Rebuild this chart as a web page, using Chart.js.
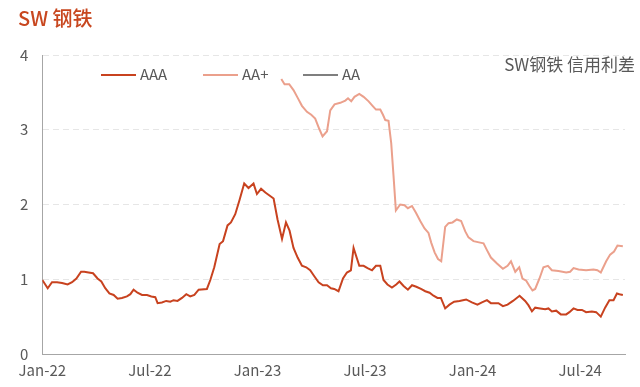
<!DOCTYPE html>
<html lang="zh">
<head>
<meta charset="UTF-8">
<title>SW 钢铁 信用利差</title>
<script src="https://cdn.jsdelivr.net/npm/chart.js"></script>
<style>
    body { margin: 0; background: #fff; font-family: "Noto Sans CJK SC", "Noto Sans", sans-serif; }
    #wrap { position: relative; width: 640px; height: 387px; }
    #spreadChart { position: absolute; left: 0; top: 0; }
    #title { position: absolute; left: 18px; top: 3px; font-size: 20px; color: #C8471F; font-weight: 500; }
    #note { position: absolute; right: 5px; top: 51px; font-size: 17px; color: #595959; }
    #legend { position: absolute; top: 63px; left: 0; font-size: 15px; color: #595959; }
    .item { position: absolute; white-space: nowrap; }
    .swatch { display: inline-block; width: 35px; height: 2px; vertical-align: middle; margin-right: 4px; position: relative; top: -1px; }
</style>
</head>
<body>
<div id="wrap">
    <canvas id="spreadChart" width="640" height="387"></canvas>
    <div id="title">SW 钢铁</div>
    <div id="note">SW钢铁 信用利差</div>
    <div id="legend"></div>
</div>
<script>
    // x values are months since Jan-22
    const xTickLabels = ['Jan-22', 'Jul-22', 'Jan-23', 'Jul-23', 'Jan-24', 'Jul-24'];
    const seriesNames = ['AAA', 'AA+', 'AA'];

    const aaaMonths = [0, 0.30, 0.54, 0.82, 1.10, 1.41, 1.66, 1.90, 2.16, 2.34, 2.58, 2.83, 3.08, 3.29, 3.51, 3.74,
        3.98, 4.20, 4.44, 4.72, 4.91, 5.09, 5.31, 5.56, 5.84, 6.08, 6.30, 6.43, 6.67, 6.91, 7.14, 7.32, 7.54, 7.79,
        8.03, 8.25, 8.48, 8.72, 9.18, 9.37, 9.59, 9.89, 10.08, 10.33, 10.52, 10.76, 11.00, 11.26, 11.50, 11.78,
        11.97, 12.20, 12.44, 12.67, 12.90, 13.12, 13.37, 13.59, 13.79, 14.01, 14.24, 14.48, 14.72, 14.94, 15.17,
        15.41, 15.65, 15.88, 16.10, 16.28, 16.52, 16.77, 16.99, 17.21, 17.36, 17.68, 17.92, 18.14, 18.39, 18.61,
        18.85, 19.03, 19.25, 19.50, 19.74, 19.92, 20.15, 20.39, 20.62, 20.86, 21.12, 21.36, 21.60, 21.82, 22.04,
        22.23, 22.47, 22.71, 22.97, 23.27, 23.64, 23.96, 24.27, 24.52, 24.80, 25.02, 25.44, 25.69, 25.95, 26.25,
        26.62, 26.93, 27.12, 27.31, 27.49, 27.77, 28.05, 28.23, 28.42, 28.66, 28.92, 29.22, 29.40, 29.63, 29.85,
        30.10, 30.33, 30.65, 30.89, 31.15, 31.39, 31.63, 31.86, 32.05, 32.19, 32.38];
    const aaaValues = [0.99, 0.88, 0.96, 0.96, 0.95, 0.93, 0.96, 1.01, 1.10, 1.10, 1.09, 1.08, 1.01, 0.97, 0.88, 0.81,
        0.79, 0.74, 0.75, 0.77, 0.80, 0.86, 0.82, 0.79, 0.79, 0.77, 0.76, 0.68, 0.69, 0.71, 0.70, 0.72, 0.71, 0.75,
        0.80, 0.77, 0.79, 0.86, 0.87, 0.99, 1.16, 1.47, 1.51, 1.72, 1.76, 1.87, 2.06, 2.28, 2.22, 2.28,
        2.14, 2.21, 2.16, 2.12, 2.08, 1.80, 1.54, 1.76, 1.65, 1.42, 1.29, 1.18, 1.16, 1.12, 1.04,
        0.96, 0.92, 0.92, 0.88, 0.87, 0.84, 1.01, 1.09, 1.12, 1.42, 1.18, 1.18, 1.15, 1.12, 1.18,
        1.18, 0.99, 0.93, 0.89, 0.93, 0.97, 0.91, 0.86, 0.92, 0.90, 0.87, 0.84, 0.82, 0.78, 0.75,
        0.75, 0.61, 0.66, 0.70, 0.71, 0.73, 0.69, 0.66, 0.69, 0.72, 0.68, 0.68, 0.64, 0.66, 0.71,
        0.78, 0.71, 0.65, 0.57, 0.62, 0.61, 0.60, 0.61, 0.57, 0.58, 0.53, 0.53, 0.56, 0.61, 0.59,
        0.59, 0.56, 0.57, 0.56, 0.50, 0.62, 0.72, 0.72, 0.81, 0.80, 0.79];

    const aaPlusMonths = [13.33, 13.51, 13.77, 14.01, 14.26, 14.48, 14.76, 15.00, 15.22, 15.45, 15.63, 15.88, 16.06,
        16.30, 16.62, 16.90, 17.05, 17.23, 17.41, 17.68, 17.92, 18.20, 18.42, 18.61, 18.85, 19.00, 19.13, 19.31,
        19.46, 19.59, 19.72, 19.96, 20.20, 20.39, 20.62, 20.84, 21.08, 21.32, 21.54, 21.69, 21.88, 22.07, 22.25,
        22.47, 22.66, 22.88, 23.12, 23.36, 23.59, 23.77, 24.05, 24.42, 24.61, 24.80, 25.02, 25.36, 25.69, 25.95,
        26.14, 26.38, 26.60, 26.78, 26.99, 27.17, 27.34, 27.49, 27.73, 27.95, 28.20, 28.42, 28.79, 29.22, 29.44,
        29.63, 29.91, 30.33, 30.74, 30.96, 31.15, 31.45, 31.67, 31.89, 32.08, 32.38];
    const aaPlusValues = [3.68, 3.61, 3.61, 3.53, 3.42, 3.32, 3.24, 3.20, 3.15, 3.01, 2.91, 2.98, 3.26,
        3.34, 3.36, 3.39, 3.42, 3.38, 3.44, 3.48, 3.44, 3.38, 3.32, 3.27, 3.27, 3.20, 3.13, 3.12,
        2.82, 2.38, 1.92, 2.00, 1.99, 1.95, 1.98, 1.89, 1.78, 1.68, 1.62, 1.49, 1.36, 1.27, 1.24,
        1.70, 1.75, 1.76, 1.80, 1.78, 1.64, 1.56, 1.51, 1.49, 1.48, 1.39, 1.29, 1.21, 1.14, 1.18,
        1.24, 1.10, 1.16, 1.01, 0.98, 0.91, 0.85, 0.87, 1.01, 1.16, 1.18, 1.12, 1.11, 1.09, 1.10,
        1.15, 1.13, 1.12, 1.13, 1.12, 1.09, 1.24, 1.33, 1.37, 1.45, 1.44];

    const aaMonths = [];
    const aaValues = [];

    const colors = ['#C8421F', '#EBA08C', '#7F7F7F'];

    function toPoints(xs, ys) {
        return xs.map((x, i) => ({ x: x, y: ys[i] }));
    }

    const datasets = [
        toPoints(aaaMonths, aaaValues),
        toPoints(aaPlusMonths, aaPlusValues),
        toPoints(aaMonths, aaValues)
    ].map((pts, i) => ({
        label: seriesNames[i],
        data: pts,
        borderColor: colors[i],
        backgroundColor: colors[i],
        borderWidth: 2,
        pointRadius: 0,
        tension: 0,
        fill: false
    }));

    // legend (positions follow the reference)
    const legendX = [101, 203, 303];
    const legend = document.getElementById('legend');
    seriesNames.forEach((name, i) => {
        const item = document.createElement('span');
        item.className = 'item';
        item.style.left = legendX[i] + 'px';
        item.innerHTML = '<span class="swatch" style="background:' + colors[i] + '"></span>' + name;
        legend.appendChild(item);
    });

    const font = { family: '"Noto Sans CJK SC", "Noto Sans", sans-serif', size: 15 };

    new Chart(document.getElementById('spreadChart'), {
        type: 'line',
        data: { datasets: datasets },
        options: {
            responsive: false,
            animation: false,
            layout: { padding: { left: 6, right: 15, top: 55, bottom: 0 } },
            plugins: {
                legend: { display: false },
                tooltip: { enabled: false }
            },
            scales: {
                x: {
                    type: 'linear',
                    min: 0,
                    max: 32.5,
                    afterBuildTicks: (scale) => {
                        scale.ticks = xTickLabels.map((l, i) => ({ value: i * 6 }));
                    },
                    ticks: {
                        color: '#595959',
                        font: Object.assign({}, font, { lineHeight: 1 }),
                        padding: 9,
                        maxRotation: 0,
                        autoSkip: false,
                        callback: (v) => xTickLabels[Math.round(v / 6)]
                    },
                    grid: { display: true, drawOnChartArea: false, drawTicks: false },
                    border: { color: '#A6A6A6', width: 1 }
                },
                y: {
                    min: 0,
                    max: 4,
                    ticks: { stepSize: 1, color: '#595959', font: font, padding: 14 },
                    grid: { color: '#E6E6E6', drawTicks: false, lineWidth: 1 },
                    border: { color: '#A6A6A6', width: 1, dash: [6, 4] }
                }
            }
        }
    });
</script>
</body>
</html>
